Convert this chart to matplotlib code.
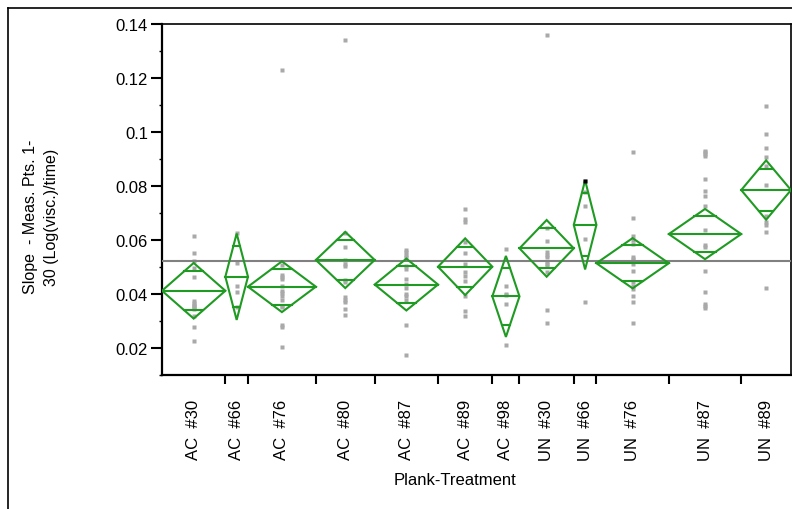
import numpy as np
import matplotlib.pyplot as plt
from matplotlib.lines import Line2D
from matplotlib.patches import Polygon

plt.rcParams['font.family'] = ['Liberation Sans', 'DejaVu Sans']

# groups (plank-treatment) and the slope measurements in each
groups = ['AC  #30', 'AC  #66', 'AC  #76', 'AC  #80', 'AC  #87', 'AC  #89',
          'AC  #98', 'UN  #30', 'UN  #66', 'UN  #76', 'UN  #87', 'UN  #89']

slopes = [
    [0.0616, 0.0552, 0.0523, 0.0495, 0.0464, 0.0374, 0.0367, 0.0360, 0.0356,
     0.0352, 0.0344, 0.0320, 0.0278, 0.0227],
    [0.0625, 0.0515, 0.0431, 0.0406, 0.0351],
    [0.1230, 0.0507, 0.0470, 0.0462, 0.0456, 0.0429, 0.0412, 0.0404, 0.0394,
     0.0379, 0.0357, 0.0352, 0.0285, 0.0277, 0.0205],
    [0.1340, 0.0626, 0.0573, 0.0527, 0.0511, 0.0505, 0.0453, 0.0446, 0.0388,
     0.0379, 0.0372, 0.0344, 0.0322],
    [0.0563, 0.0554, 0.0544, 0.0536, 0.0505, 0.0493, 0.0456, 0.0437, 0.0421,
     0.0400, 0.0391, 0.0378, 0.0285, 0.0175],
    [0.0715, 0.0678, 0.0667, 0.0594, 0.0552, 0.0511, 0.0481, 0.0467, 0.0449,
     0.0394, 0.0337, 0.0318],
    [0.0567, 0.0430, 0.0400, 0.0396, 0.0363, 0.0211],
    [0.1360, 0.0643, 0.0595, 0.0554, 0.0544, 0.0536, 0.0520, 0.0511, 0.0503,
     0.0480, 0.0342, 0.0293],
    [0.0820, 0.0777, 0.0725, 0.0604, 0.0372],
    [0.0927, 0.0681, 0.0616, 0.0600, 0.0585, 0.0538, 0.0530, 0.0523, 0.0511,
     0.0486, 0.0443, 0.0429, 0.0420, 0.0394, 0.0372, 0.0293],
    [0.0931, 0.0925, 0.0918, 0.0910, 0.0826, 0.0783, 0.0762, 0.0725, 0.0638,
     0.0581, 0.0573, 0.0486, 0.0409, 0.0363, 0.0355, 0.0349],
    [0.1095, 0.0993, 0.0941, 0.0906, 0.0875, 0.0804, 0.0690, 0.0665, 0.0657,
     0.0631, 0.0421],
]

# group means and 95% CI half widths (pooled std dev)
means = [0.0412, 0.0464, 0.0427, 0.0526, 0.0435, 0.0501,
         0.0391, 0.0569, 0.0656, 0.0514, 0.0622, 0.0785]
ci_half = [0.0103, 0.0160, 0.0094, 0.0104, 0.0096, 0.0105,
           0.0150, 0.0105, 0.0165, 0.0093, 0.0093, 0.0110]
grand_mean = 0.0523

# selected row
selected = (8, 0)

green = '#1f9a22'
W, H = 792, 510
fig = plt.figure(figsize=(W / 100, H / 100), dpi=100)
ax = fig.add_axes([162 / W, 1 - 376 / H, (791 - 162) / W, (376 - 25) / H])

# x axis proportional to group size
counts = np.array([len(s) for s in slopes])
edges = np.concatenate([[0], np.cumsum(counts)])
centers = (edges[:-1] + edges[1:]) / 2

for i, vals in enumerate(slopes):
    ax.plot(np.full(len(vals), centers[i]), vals, 's', ms=2.6, color='#a9a9a9',
            mec='none', zorder=2)
si, sj = selected
ax.plot(centers[si], slopes[si][sj], 's', ms=2.8, color='black', mec='none', zorder=5)

ax.axhline(grand_mean, color='#808080', lw=1.5, zorder=3)

for i in range(len(groups)):
    x0, x1, xc = edges[i], edges[i + 1], centers[i]
    m, h = means[i], ci_half[i]
    ax.add_patch(Polygon([(x0, m), (xc, m + h), (x1, m), (xc, m - h)], closed=True,
                         fill=False, ec=green, lw=1.5, zorder=4))
    ax.plot([x0, x1], [m, m], color=green, lw=1.5, zorder=4)
    # overlap marks
    d = h / np.sqrt(2)
    hw = (x1 - x0) / 2 * (1 - 1 / np.sqrt(2))
    for yy in (m + d, m - d):
        ax.plot([xc - hw, xc + hw], [yy, yy], color=green, lw=1.5, zorder=4)

ax.set_xlim(edges[0], edges[-1])
ax.set_ylim(0.01, 0.14)

yt = np.arange(0.02, 0.141, 0.02)
ax.set_yticks(yt, [f'{v:g}' for v in np.round(yt, 2)])
ax.set_yticks(np.arange(0.01, 0.141, 0.01), minor=True)
ax.tick_params(axis='y', which='major', length=8, width=1.5, pad=2, labelsize=12)
ax.tick_params(axis='y', which='minor', length=2.5, width=1)

ax.set_xticks(centers, groups, rotation=90, va='top')
ax.set_xticks(edges[1:-1], minor=True)
ax.tick_params(axis='x', which='major', length=0, pad=17, labelsize=12)
ax.tick_params(axis='x', which='minor', length=6.5, width=1.5)

for side in ('left', 'bottom'):
    ax.spines[side].set_linewidth(1.6)
for side in ('top', 'right'):
    ax.spines[side].set_linewidth(1.2)

fig.text(455 / W, 1 - 481 / H, 'Plank-Treatment', ha='center', va='center', fontsize=12)
fig.text(41 / W, 1 - 217 / H, 'Slope  - Meas. Pts. 1-\n30 (Log(visc.)/time)',
         rotation=90, ha='center', va='center', multialignment='center',
         fontsize=11.5, linespacing=1.55)

# outer frame
fig.add_artist(Line2D([8 / W, 8 / W], [0, 1 - 9 / H], color='black', lw=1.2))
fig.add_artist(Line2D([8 / W, 1], [1 - 9 / H, 1 - 9 / H], color='black', lw=1.2))

fig.savefig('out.png', dpi=100)
